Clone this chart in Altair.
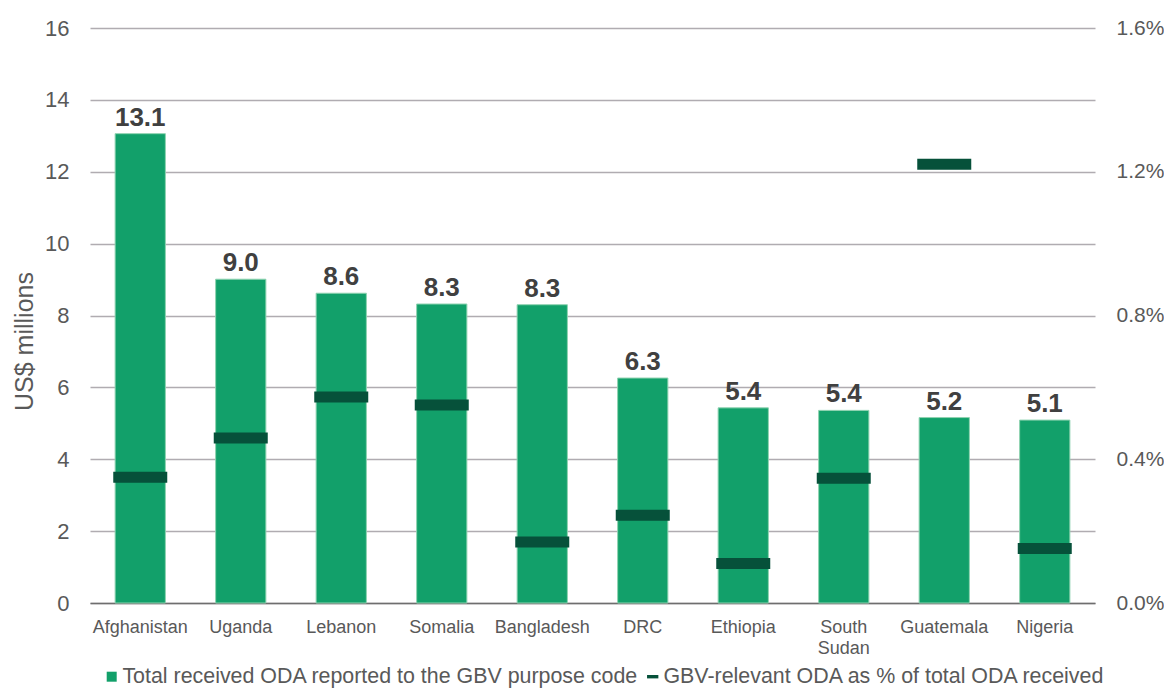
import altair as alt
import pandas as pd

countries = ["Afghanistan", "Uganda", "Lebanon", "Somalia", "Bangladesh",
             "DRC", "Ethiopia", "South Sudan", "Guatemala", "Nigeria"]
total_oda = [13.06, 9.01, 8.62, 8.32, 8.30, 6.26, 5.43, 5.36, 5.16, 5.09]
gbv_share = [0.00350, 0.00459, 0.00573, 0.00551, 0.00170,
             0.00244, 0.00110, 0.00347, 0.01221, 0.00152]
left_ticks = [0, 2, 4, 6, 8, 10, 12, 14, 16]
right_ticks = [0.0, 0.004, 0.008, 0.012, 0.016]
series_bar = "Total received ODA reported to the GBV purpose code"
series_pct = "GBV-relevant ODA as % of total ODA received"

GREEN = "#12A06A"
DARK = "#06513A"
FONT = "Liberation Sans"

df = pd.DataFrame({
    "country": countries,
    "total": total_oda,
    "share": gbv_share,
    "s1": series_bar,
    "s2": series_pct,
})

x = alt.X(
    "country:N", sort=countries, title=None,
    scale=alt.Scale(paddingInner=0.5, paddingOuter=0.25),
    axis=alt.Axis(
        labelAngle=0, ticks=False, grid=False,
        labelExpr="datum.value == 'South Sudan' ? ['South', 'Sudan'] : datum.value",
        labelFontSize=18, labelColor="#595959", labelPadding=15, labelLineHeight=21,
        domainColor="#6e6e6e", domainWidth=1.5,
    ),
)

bars = alt.Chart(df).mark_bar(stroke="#8fd3b1", strokeWidth=1).encode(
    x=x,
    y=alt.Y(
        "total:Q",
        scale=alt.Scale(domain=[0, 16], nice=False),
        axis=alt.Axis(
            values=left_ticks, title="US$ millions", grid=True, ticks=False, domain=False,
            labelPadding=21, labelFontSize=22, labelColor="#595959",
            titleFontSize=25, titleFontWeight="normal", titleColor="#595959",
            titlePadding=7, titleY=313,
            gridColor="#B0ACB1", gridWidth=1.5,
        ),
    ),
    color=alt.Color(
        "s1:N", scale=alt.Scale(range=[GREEN]),
        legend=alt.Legend(
            title=None, orient="none", legendX=11, legendY=638,
            symbolType="square", symbolSize=100, symbolStrokeWidth=0,
            labelFontSize=21.4, labelColor="#595959", labelLimit=0, labelOffset=0,
        ),
    ),
)

labels = alt.Chart(df).mark_text(
    baseline="alphabetic", dy=-8, fontSize=26, fontWeight="bold", color="#404040", font=FONT
).encode(
    x=x,
    y=alt.Y("total:Q"),
    text=alt.Text("total:Q", format=".1f"),
)

left = alt.layer(bars, labels)

markers = alt.Chart(df).mark_tick(thickness=11, size=54, opacity=1).encode(
    x=x,
    y=alt.Y(
        "share:Q",
        scale=alt.Scale(domain=[0, 0.016], nice=False),
        axis=alt.Axis(
            values=right_ticks, format=".1%", orient="right", grid=False, ticks=False,
            domain=False, title=None, labelPadding=21, labelFontSize=21, labelColor="#595959",
        ),
    ),
    color=alt.Color(
        "s2:N", scale=alt.Scale(range=[DARK]),
        legend=alt.Legend(
            title=None, orient="none", legendX=552, legendY=638,
            symbolType="M-1,-0.3H1V0.3H-1Z", symbolSize=128, symbolStrokeWidth=0,
            labelFontSize=21.4, labelColor="#595959", labelLimit=0, labelOffset=0,
        ),
    ),
)

chart = alt.layer(left, markers).resolve_scale(
    y="independent", color="independent"
).properties(
    width=1005, height=575,
    autosize=alt.AutoSizeParams(type="none"),
    padding={"left": 82, "top": 20, "right": 69, "bottom": 85},
).configure(font=FONT).configure_view(stroke=None).configure_axis(
    labelFont=FONT, titleFont=FONT
).configure_legend(labelFont=FONT)

chart.save("out.html", embed_options={"renderer": "svg", "actions": False})
